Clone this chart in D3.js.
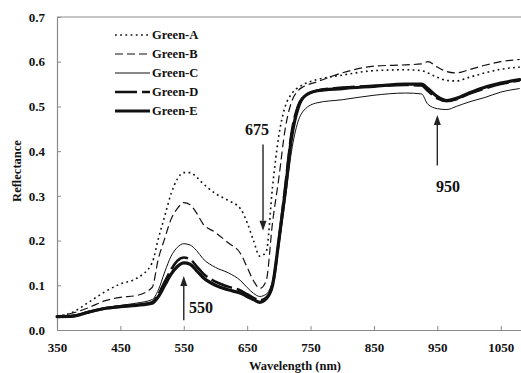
<!DOCTYPE html>
<html>
<head>
<meta charset="utf-8">
<script src="https://cdn.jsdelivr.net/npm/d3@7"></script>
<style>
  html, body { margin: 0; padding: 0; background: #fff; }
  svg { display: block; }
  text { font-family: "Liberation Serif", "Times New Roman", serif; font-weight: bold; fill: #111; }
</style>
</head>
<body>
<svg id="chart" width="521" height="373"></svg>
<script>
// ---------- data ----------
const wavelengths = [350, 375, 400, 425, 450, 475, 500, 510, 520, 530, 540, 550, 560, 570, 580, 600, 620, 640, 650, 660, 670, 680, 690, 700, 710, 720, 730, 740, 760, 800, 850, 900, 925, 935, 950, 965, 980, 1000, 1025, 1050, 1080];

const greenA = [.030, .040, .062, .085, .103, .115, .150, .205, .255, .305, .338, .352, .352, .342, .328, .305, .290, .270, .240, .200, .165, .175, .320, .435, .500, .528, .542, .550, .560, .570, .580, .582, .580, .575, .565, .558, .557, .565, .575, .583, .588];
const greenB = [.030, .038, .050, .065, .073, .077, .095, .160, .205, .248, .272, .285, .280, .262, .238, .218, .195, .170, .140, .110, .093, .110, .240, .340, .450, .510, .535, .545, .555, .575, .590, .593, .595, .600, .588, .578, .575, .582, .592, .600, .605];
const greenC = [.030, .033, .042, .050, .055, .060, .068, .090, .130, .165, .185, .193, .190, .178, .160, .140, .128, .110, .095, .082, .075, .080, .110, .190, .290, .400, .465, .492, .508, .515, .525, .530, .528, .505, .495, .493, .500, .510, .520, .532, .540];
const greenD = [.030, .031, .040, .048, .053, .056, .062, .080, .108, .135, .155, .162, .158, .143, .127, .108, .097, .088, .080, .072, .066, .072, .100, .200, .320, .440, .500, .522, .535, .542, .546, .548, .547, .535, .518, .512, .516, .528, .540, .550, .558];
const greenE = [.030, .031, .040, .048, .052, .055, .060, .075, .100, .125, .142, .150, .147, .133, .118, .100, .090, .082, .075, .068, .062, .070, .100, .200, .310, .430, .495, .522, .535, .540, .545, .550, .550, .540, .522, .513, .518, .530, .543, .552, .560];

const seriesNames = ["Green-A", "Green-B", "Green-C", "Green-D", "Green-E"];
const seriesValues = [greenA, greenB, greenC, greenD, greenE];

const xTicks = [350, 450, 550, 650, 750, 850, 950, 1050];
const yTicks = [0, 0.1, 0.2, 0.3, 0.4, 0.5, 0.6, 0.7];

const annotations = [
  { label: "675", wl: 675, from: 0.415, to: 0.222 },
  { label: "550", wl: 550, from: 0.022, to: 0.121 },
  { label: "950", wl: 950, from: 0.368, to: 0.481 }
];

// ---------- styles ----------
const styles = [
  { width: 1.6, dash: "1.8,3.4", cap: "butt" },
  { width: 1.2, dash: "8,4", cap: "butt" },
  { width: 1.0, dash: null, cap: "butt" },
  { width: 2.6, dash: "22,5", cap: "butt" },
  { width: 3.2, dash: null, cap: "round" }
];

// ---------- layout ----------
const svg = d3.select("#chart");
const M = { left: 57, right: 521, top: 17, bottom: 330 };

const x = d3.scaleLinear().domain([350, 1082]).range([M.left, M.right]);
const y = d3.scaleLinear().domain([0, 0.7]).range([M.bottom, M.top]);

const axisColor = "#8a8a8a";

// top border
svg.append("line").attr("x1", M.left).attr("x2", M.right).attr("y1", M.top).attr("y2", M.top)
  .attr("stroke", axisColor).attr("stroke-width", 1);

// axes
const xAxis = svg.append("g").attr("transform", `translate(0,${M.bottom})`)
  .call(d3.axisBottom(x).tickValues(xTicks).tickFormat(d3.format("d")).tickSizeInner(-4).tickSizeOuter(0).tickPadding(13));
const yAxis = svg.append("g").attr("transform", `translate(${M.left},0)`)
  .call(d3.axisLeft(y).tickValues(yTicks).tickFormat(d3.format(".1f")).tickSizeInner(-4).tickSizeOuter(0).tickPadding(12));

[xAxis, yAxis].forEach(g => {
  g.select(".domain").attr("stroke", axisColor).attr("stroke-width", 1.2);
  g.selectAll(".tick line").attr("stroke", axisColor);
  g.selectAll(".tick text").attr("font-family", "Liberation Serif, Times New Roman, serif")
    .attr("font-weight", "bold").attr("font-size", 13).attr("fill", "#111");
});

// axis titles
svg.append("text").attr("x", 295).attr("y", 370).attr("text-anchor", "middle")
  .attr("font-size", 12.5).text("Wavelength (nm)");
svg.append("text").attr("transform", "translate(21,171) rotate(-90)").attr("text-anchor", "middle")
  .attr("font-size", 12.5).text("Reflectance");

// lines
const line = d3.line().x((d, i) => x(wavelengths[i])).y(d => y(d)).curve(d3.curveMonotoneX);

seriesValues.forEach((vals, k) => {
  const s = styles[k];
  svg.append("path").datum(vals).attr("d", line)
    .attr("fill", "none").attr("stroke", "#111")
    .attr("stroke-width", s.width)
    .attr("stroke-linecap", s.cap)
    .attr("stroke-linejoin", "round")
    .attr("stroke-dasharray", s.dash);
});

// legend
const legend = svg.append("g");
seriesNames.forEach((name, k) => {
  const s = styles[k];
  const yy = 35 + k * 19;
  legend.append("line").attr("x1", 115).attr("x2", 150).attr("y1", yy).attr("y2", yy)
    .attr("stroke", "#111").attr("stroke-width", s.width).attr("stroke-dasharray", s.dash);
  legend.append("text").attr("x", 152).attr("y", yy + 4).attr("font-size", 12.5).text(name);
});

// annotations
const arrowColor = "#222";
annotations.forEach(a => {
  const ax = x(a.wl);
  const y1 = y(a.from), y2 = y(a.to);
  const sign = y2 > y1 ? 1 : -1;
  const headLen = 10, headW = 3.5;
  svg.append("line").attr("x1", ax).attr("x2", ax).attr("y1", y1).attr("y2", y2 - sign * headLen)
    .attr("stroke", arrowColor).attr("stroke-width", 1.4);
  svg.append("path")
    .attr("d", `M${ax},${y2} L${ax - headW},${y2 - sign * headLen} L${ax + headW},${y2 - sign * headLen} Z`)
    .attr("fill", arrowColor);
});
svg.append("text").attr("x", 257).attr("y", 135).attr("text-anchor", "middle").attr("font-size", 16).text(annotations[0].label);
svg.append("text").attr("x", 201).attr("y", 313).attr("text-anchor", "middle").attr("font-size", 16).text(annotations[1].label);
svg.append("text").attr("x", 448).attr("y", 192).attr("text-anchor", "middle").attr("font-size", 16).text(annotations[2].label);
</script>
</body>
</html>
